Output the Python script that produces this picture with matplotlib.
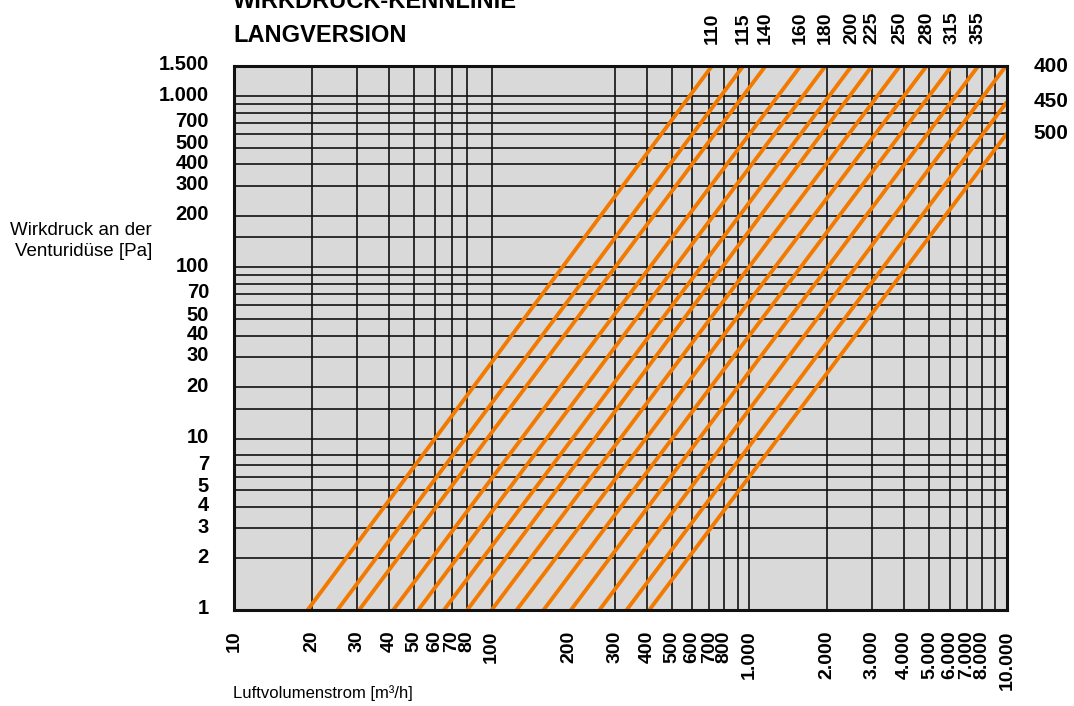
import matplotlib
matplotlib.use('Agg')
import matplotlib.pyplot as plt
import matplotlib.transforms as mtransforms
from matplotlib.ticker import NullLocator

plt.rcParams['font.family'] = ['Liberation Sans', 'DejaVu Sans']

# ---- data -------------------------------------------------------------
diameters = ['110', '115', '140', '160', '180', '200', '225', '250',
             '280', '315', '355', '400', '450', '500']
flow_at_1pa = [19.3, 25.2, 30.6, 41.5, 51.9, 65.3, 80.4, 100.0,
               125.0, 159.0, 203.0, 262.0, 334.0, 409.0]
flow_end = [716, 947, 1155, 1579, 1974, 2495, 2991, 3841,
            4875, 6095, 7732, 9900, 10000, 10000]
pressure_end = [1500, 1500, 1500, 1500, 1500, 1500, 1500, 1500,
                1500, 1500, 1500, 1500, 927, 606]
# where the diameter label sits: top of chart or right of chart
label_side = ['top'] * 11 + ['right'] * 3

x_tick_values = [10, 20, 30, 40, 50, 60, 70, 80, 100, 200, 300, 400, 500,
                 600, 700, 800, 1000, 2000, 3000, 4000, 5000, 6000, 7000,
                 8000, 10000]
x_tick_labels = ['10', '20', '30', '40', '50', '60', '70', '80', '100',
                 '200', '300', '400', '500', '600', '700', '800', '1.000',
                 '2.000', '3.000', '4.000', '5.000', '6.000', '7.000',
                 '8.000', '10.000']
y_tick_values = [1, 2, 3, 4, 5, 7, 10, 20, 30, 40, 50, 70, 100, 200, 300,
                 400, 500, 700, 1000, 1500]
y_tick_labels = ['1', '2', '3', '4', '5', '7', '10', '20', '30', '40', '50',
                 '70', '100', '200', '300', '400', '500', '700', '1.000',
                 '1.500']
x_grid = [20, 30, 40, 50, 60, 70, 80, 100, 300, 400, 500, 600, 700, 800,
          900, 1000, 2000, 3000, 4000, 5000, 6000, 7000, 8000, 9000]
y_grid = [2, 3, 4, 5, 6, 7, 8, 10, 15, 20, 30, 40, 50, 60, 70, 80, 90, 100,
          150, 200, 300, 400, 500, 600, 700, 800, 900, 1000]

# ---- figure -----------------------------------------------------------
W, H = 1074, 706
fig = plt.figure(figsize=(W / 100, H / 100), dpi=100)
ax = fig.add_axes([234 / W, 96 / H, 773 / W, 544 / H])
ax.set_xscale('log')
ax.set_yscale('log')
ax.set_xlim(10, 10000)
ax.set_ylim(1, 1500)
ax.set_facecolor('#d9d9d9')

for v in x_grid:
    ax.axvline(v, color='#111111', lw=1.2, zorder=1)
for v in y_grid:
    ax.axhline(v, color='#111111', lw=1.2, zorder=1)

orange = '#f27a00'
for lab, qs, qe, pe, side in zip(diameters, flow_at_1pa, flow_end,
                                 pressure_end, label_side):
    ax.plot([qs, qe], [1, pe], color=orange, lw=2.8,
            solid_capstyle='butt', zorder=3)
    if side == 'top':
        ax.annotate(lab, xy=(qe, 1500), xytext=(0, 16),
                    textcoords='offset points', rotation=90,
                    ha='center', va='bottom', fontsize=14,
                    fontweight='bold', annotation_clip=False)
    else:
        ax.annotate(lab, xy=(10000, pe), xytext=(19, 0),
                    textcoords='offset points',
                    ha='left', va='center', fontsize=15,
                    fontweight='bold', annotation_clip=False)

ax.set_xticks(x_tick_values)
ax.set_xticklabels(x_tick_labels, rotation=90, fontsize=14,
                   fontweight='bold', va='top', ha='center')
ax.set_yticks(y_tick_values)
ax.set_yticklabels(y_tick_labels, fontsize=14.5, fontweight='bold')
ax.xaxis.set_minor_locator(NullLocator())
ax.yaxis.set_minor_locator(NullLocator())
ax.tick_params(axis='x', length=0, pad=15)
ax.tick_params(axis='y', length=0, pad=18)

# shift y tick labels slightly upward, as in the original
# (the 5/50/500 labels sit a little higher to clear their neighbours)
for lbl in ax.get_yticklabels():
    dy = 6 if lbl.get_text().startswith('5') else 3
    shift = mtransforms.ScaledTranslation(0, dy / 100, fig.dpi_scale_trans)
    lbl.set_transform(lbl.get_transform() + shift)

for s in ax.spines.values():
    s.set_linewidth(2.2)
    s.set_color('#111111')
    s.set_zorder(5)

fig.text(152 / W, 1 - 241 / H, 'Wirkdruck an der\nVenturidüse [Pa]',
         ha='right', va='center', multialignment='right', fontsize=13.5,
         linespacing=1.3)
fig.text(233 / W, 1 - 693 / H, 'Luftvolumenstrom [m³/h]', ha='left',
         va='center', fontsize=12)
fig.text(233 / W, 1 - 8 / H, 'WIRKDRUCK-KENNLINIE', ha='left',
         va='baseline', fontsize=17, fontweight='bold')
fig.text(233 / W, 1 - 41.5 / H, 'LANGVERSION', ha='left',
         va='baseline', fontsize=17, fontweight='bold')

fig.savefig('out.png', dpi=100)
